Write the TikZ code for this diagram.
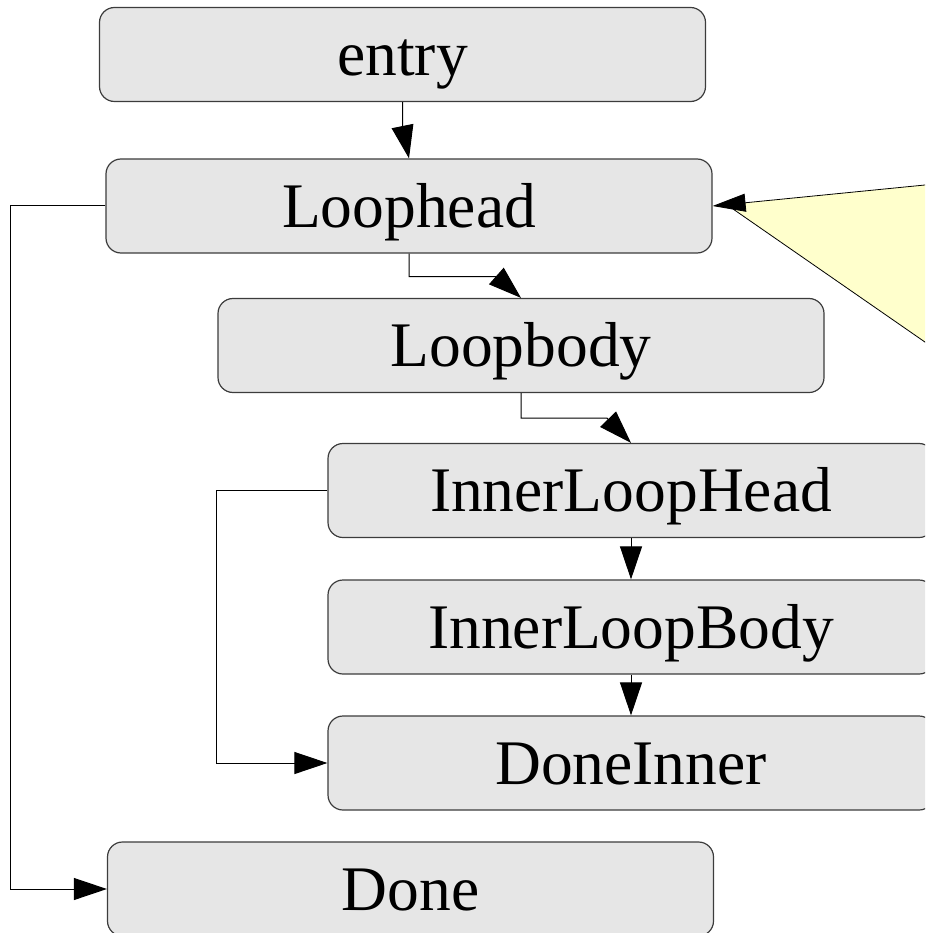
\documentclass[tikz,border=0pt]{standalone}
\usepackage{fontspec}
\setmainfont{Liberation Serif}
\usetikzlibrary{arrows.meta}
\definecolor{boxfill}{RGB}{230,230,230}
\definecolor{boxline}{RGB}{60,60,60}
\definecolor{notefill}{RGB}{255,255,204}
\tikzset{
  block/.style={draw=boxline, line width=1.2pt, fill=boxfill, rounded corners=15pt,
    minimum width=606pt, minimum height=94pt, inner sep=0pt,
    text height=42pt, text depth=0pt,
    font=\fontsize{63.5}{70}\selectfont},
  flow/.style={draw=black, line width=1pt, -{Triangle[length=33pt,width=22pt]}},
}
\begin{document}
\begin{tikzpicture}[x=1pt,y=-1pt]
\useasboundingbox (0,0) rectangle (925,933);
\clip (0,0) rectangle (925,933);

% blocks of the flow graph
\node[block] (entry)    at (402.5,54.5) {entry};
\node[block] (loophead) at (409,206)    {Loophead};
\node[block] (loopbody) at (521,345.5)  {Loopbody};
\node[block] (ilhead)   at (631,490.5)  {InnerLoopHead};
\node[block] (ilbody)   at (631,627)    {InnerLoopBody};
\node[block] (doneinner) at (631,763)   {DoneInner};
\node[block] (done)     at (410.5,889)  {Done};

% forward edges
\draw[flow] (entry.south) -- ++(0,24) -- (loophead.north);
\draw[flow] (loophead.south) -- ++(0,23) -- ++(88,0) -- (loopbody.north);
\draw[flow] (loopbody.south) -- ++(0,25) -- ++(86,0) -- (ilhead.north);
\draw[flow] (ilhead.south) -- (ilbody.north);
\draw[flow] (ilbody.south) -- (doneinner.north);

% loop exits
\draw[flow] (loophead.west) -- ++(-95,0) |- (done.west);
\draw[flow] (ilhead.west) -- ++(-111,0) |- (doneinner.west);

% note callout pointing at the loop head
\coordinate (noteTop) at (935,184);
\coordinate (noteApex) at (733,209);
\coordinate (noteBot) at (935,349);
\fill[notefill] (noteTop) -- (loophead.east) -- (noteApex) -- (noteBot) -- cycle;
\draw[line width=0.8pt] (noteApex) -- (noteBot);
\draw[line width=0.8pt, -{Triangle[length=33pt,width=18pt]}] (noteTop) -- (loophead.east);
\end{tikzpicture}
\end{document}
